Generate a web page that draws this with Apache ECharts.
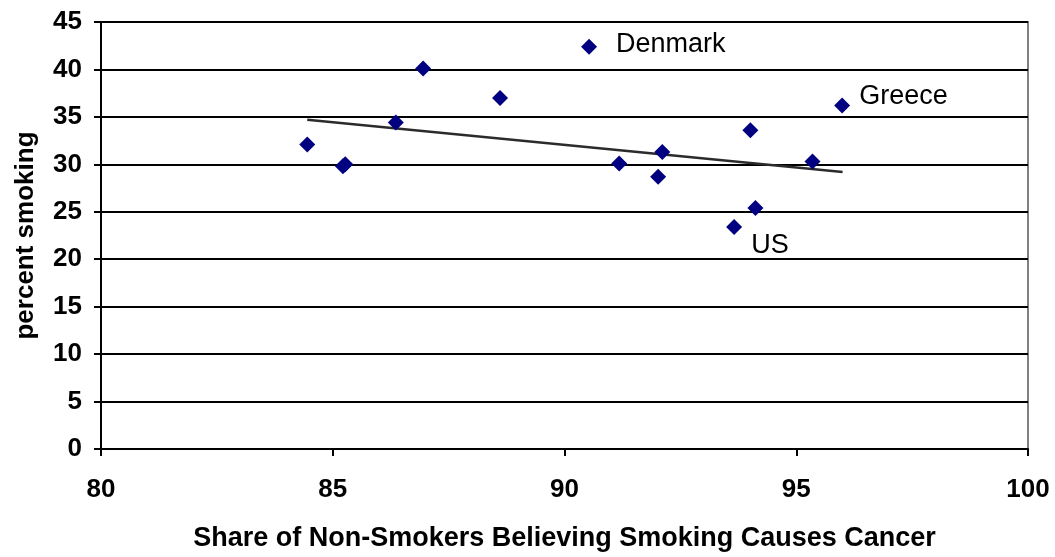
<!DOCTYPE html>
<html>
<head>
<meta charset="utf-8">
<script src="https://cdn.jsdelivr.net/npm/echarts@6/dist/echarts.min.js"></script>
<style>html,body{margin:0;padding:0;background:#fff}#c{width:1055px;height:557px}</style>
</head>
<body>
<div id="c"></div>
<script>
// Data
const shareBelieving = [84.45, 85.22, 85.27, 86.36, 86.95, 88.61, 90.53, 91.18, 92.11, 92.02, 94.01, 95.35, 94.12, 93.66, 95.99];
const percentSmoking = [32.1, 29.8, 30.0, 34.4, 40.1, 37.0, 42.4, 30.1, 31.3, 28.7, 33.6, 30.3, 25.4, 23.4, 36.2];
const countryLabels = ['', '', '', '', '', '', 'Denmark', '', '', '', '', '', '', 'US', 'Greece'];
const trendX = [84.45, 96.0];
const trendY = [34.7, 29.2];
const xTicks = [80, 85, 90, 95, 100];
const yTicks = [0, 5, 10, 15, 20, 25, 30, 35, 40, 45];

// label placement (style only)
const labelPos = { 'Denmark': [35, 6], 'Greece': [25, -1], 'US': [25, 27] };

const FONT = "'Liberation Sans', Arial, sans-serif";
const points = shareBelieving.map((x, i) => {
  const name = countryLabels[i];
  const p = { value: [x, percentSmoking[i]], name: name };
  if (name) {
    p.label = { show: true, formatter: name, position: labelPos[name], align: 'left', verticalAlign: 'middle',
      fontFamily: FONT, fontSize: 27, color: '#000', textBorderWidth: 0 };
  }
  return p;
});

const chart = echarts.init(document.getElementById('c'), null, { renderer: 'canvas' });
chart.setOption({
  animation: false,
  backgroundColor: '#fff',
  grid: { left: 101, right: 27, top: 22, bottom: 107, show: true, borderColor: '#808080', borderWidth: 2, backgroundColor: 'transparent' },
  xAxis: {
    type: 'value', min: xTicks[0], max: xTicks[xTicks.length - 1], interval: xTicks[1] - xTicks[0],
    name: 'Share of Non-Smokers Believing Smoking Causes Cancer', nameLocation: 'middle', nameGap: 76,
    nameTextStyle: { fontFamily: FONT, fontSize: 27, fontWeight: 'bold', color: '#000' },
    axisLine: { show: true, onZero: false, lineStyle: { color: '#000', width: 2 } },
    axisTick: { show: true, length: 7, lineStyle: { color: '#000', width: 2 } },
    axisLabel: { margin: 28, fontFamily: FONT, fontSize: 26, fontWeight: 'bold', color: '#000' },
    splitLine: { show: false }
  },
  yAxis: {
    type: 'value', min: yTicks[0], max: yTicks[yTicks.length - 1], interval: yTicks[1] - yTicks[0],
    name: 'percent smoking', nameLocation: 'middle', nameGap: 62,
    nameTextStyle: { fontFamily: FONT, fontSize: 26, fontWeight: 'bold', color: '#000' },
    axisLine: { show: true, onZero: false, lineStyle: { color: '#000', width: 2 } },
    axisTick: { show: true, length: 7, lineStyle: { color: '#000', width: 2 } },
    axisLabel: { margin: 19, fontFamily: FONT, fontSize: 26, fontWeight: 'bold', color: '#000' },
    splitLine: { show: true, lineStyle: { color: '#000', width: 2 } }
  },
  series: [
    {
      type: 'line', data: trendX.map((x, i) => [x, trendY[i]]), symbol: 'none',
      lineStyle: { color: '#2b2b2b', width: 2.5 }, z: 2, silent: true
    },
    {
      type: 'scatter', data: points, symbol: 'diamond', symbolSize: 16,
      itemStyle: { color: '#000080', opacity: 1 }, z: 3
    }
  ]
});
</script>
</body>
</html>
